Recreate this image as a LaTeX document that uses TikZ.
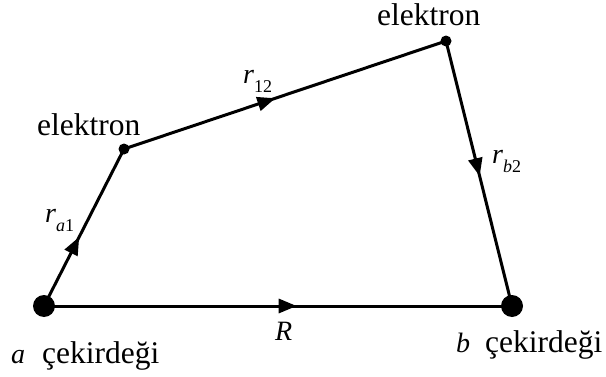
\documentclass[tikz,border=0pt]{standalone}
\usepackage{fontspec}
\setmainfont{Liberation Serif}
\usetikzlibrary{arrows.meta,decorations.markings}
\newcommand{\sub}[1]{\raisebox{-0.34em}{\fontsize{18}{18}\selectfont #1}}
\begin{document}
\begin{tikzpicture}[x=1pt,y=1pt,
  edge/.style={line width=3pt},
  midarrow/.style={postaction={decorate,decoration={markings,
     mark=at position #1 with {\arrow{Triangle[length=18pt,width=14pt]}}}}},
  bigdot/.style={circle,fill=black,inner sep=0pt,minimum size=22pt},
  smalldot/.style={circle,fill=black,inner sep=0pt,minimum size=11pt},
  lbl/.style={anchor=base west,inner sep=0pt,font=\fontsize{31.5}{36}\selectfont},
  sym/.style={anchor=base west,inner sep=0pt,font=\fontsize{28}{32}\selectfont\itshape}]
\useasboundingbox (0,0) rectangle (606,376);
\coordinate (a) at (44,70);
\coordinate (b) at (512,70);
\coordinate (e1) at (124,227);
\coordinate (e2) at (446,335);
\draw[edge,midarrow=0.44] (a) -- (e1);
\draw[edge,midarrow=0.47] (e1) -- (e2);
\draw[edge,midarrow=0.51] (e2) -- (b);
\draw[edge,midarrow=0.54] (a) -- (b);
\node[bigdot] (na) at (a) {};
\node[bigdot] (nb) at (b) {};
\node[smalldot] (ne1) at (e1) {};
\node[smalldot] (ne2) at (e2) {};
\node[lbl] (t1) at (37,240.5) {elektron};
\node[lbl] (t2) at (377,351) {elektron};
\node[sym] (ra1) at (45,154) {r\sub{a\upshape 1}};
\node[sym] (r12) at (243,293) {r\sub{\upshape 12}};
\node[sym] (rb2) at (492,213) {r\sub{b\upshape 2}};
\node[sym] (R) at (275,36) {R};
\node[sym] (la) at (11,13) {a};
\node[lbl] (ca) at (42,13) {çekirdeği};
\node[sym] (lb) at (456,24) {b};
\node[lbl] (cb) at (485,24) {çekirdeği};
\end{tikzpicture}
\end{document}
